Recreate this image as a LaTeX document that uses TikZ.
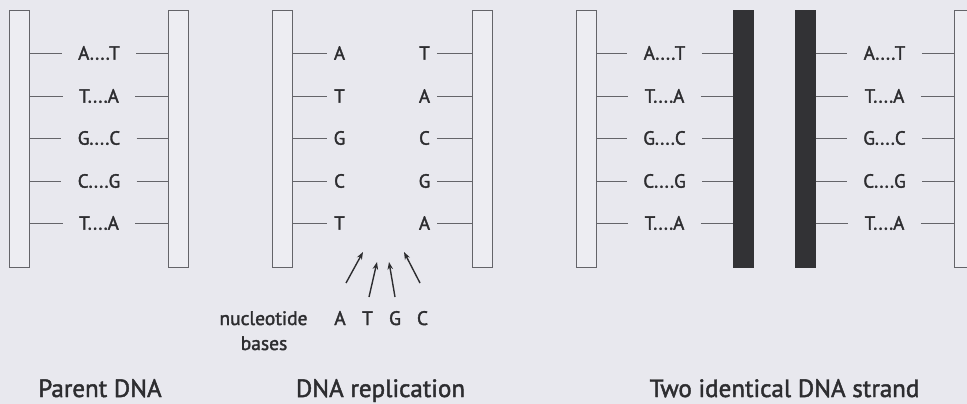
\documentclass[tikz,border=0pt]{standalone}
\usepackage{fontspec}
\setmainfont{PT Sans}[UprightFeatures={FakeBold=1.8}]
\usetikzlibrary{arrows.meta}
\definecolor{bgc}{RGB}{232,232,238}
\definecolor{barline}{RGB}{100,100,105}
\definecolor{barfill}{RGB}{237,237,242}
\definecolor{darkbar}{RGB}{50,50,53}
\definecolor{txt}{RGB}{45,45,48}
\tikzset{
  strandbar/.style={draw=barline, fill=barfill, line width=0.9pt, minimum width=20pt, minimum height=257pt, inner sep=0pt, outer sep=0pt},
  darkstrand/.style={draw=darkbar, fill=darkbar, line width=0.9pt, minimum width=20pt, minimum height=257pt, inner sep=0pt, outer sep=0pt},
  pairlab/.style={text=txt, font=\fontsize{19}{19}\selectfont, inner ysep=0pt, inner xsep=16.5pt, outer sep=0pt},
  singlab/.style={text=txt, font=\fontsize{19}{19}\selectfont, inner ysep=0pt, inner xsep=7pt, outer sep=0pt},
  rung/.style={draw=barline, line width=0.9pt},
  caption/.style={text=txt, font=\fontsize{25}{25}\selectfont, anchor=base, inner sep=0pt},
  small/.style={text=txt, font=\fontsize{19.5}{19.5}\selectfont, anchor=base, inner sep=0pt},
  basearrow/.style={draw=txt, line width=1.4pt, -{Stealth[length=7.5pt,width=5.5pt]}}
}
\begin{document}
\begin{tikzpicture}[x=1pt,y=-1pt]
\useasboundingbox (0,0) rectangle (967,404);
\fill[bgc] (0,0) rectangle (967,404);
\clip (0,0) rectangle (967,404);

% ---------- Panel 1: Parent DNA ----------
\node[strandbar] (p1L) at (19.5,138.75) {};
\node[strandbar] (p1R) at (178,138.75) {};
\foreach \i/\t/\y in {1/{A....T}/53, 2/{T....A}/96, 3/{G....C}/138, 4/{C....G}/181, 5/{T....A}/223}{
  \node[pairlab] (p1l\i) at (99,\y) {\t};
  \draw[rung] (p1L.east |- p1l\i.west) -- (p1l\i.west);
  \draw[rung] (p1l\i.east) -- (p1R.west |- p1l\i.east);
}

% ---------- Panel 2: DNA replication ----------
\node[strandbar] (p2L) at (282,138.75) {};
\node[strandbar] (p2R) at (482,138.75) {};
\foreach \i/\a/\b/\y in {1/A/T/53, 2/T/A/96, 3/G/C/138, 4/C/G/181, 5/T/A/223}{
  \node[singlab] (p2a\i) at (339.5,\y) {\a};
  \node[singlab] (p2b\i) at (424.5,\y) {\b};
  \draw[rung] (p2L.east |- p2a\i.west) -- (p2a\i.west);
  \draw[rung] (p2b\i.east) -- (p2R.west |- p2b\i.east);
}
\node[small] (nuc) at (263.5,325) {nucleotide};
\node[small] (bas) at (264,350) {bases};
\node[small] (nA) at (340,325) {A};
\node[small] (nT) at (367.5,325) {T};
\node[small] (nG) at (395,325) {G};
\node[small] (nC) at (422.5,325) {C};
\coordinate (hA) at (363,252);
\coordinate (hT) at (377,262);
\coordinate (hG) at (389,262);
\coordinate (hC) at (404,252);
\draw[basearrow] (346,283) -- (hA);
\draw[basearrow] (369,297) -- (hT);
\draw[basearrow] (395,297) -- (hG);
\draw[basearrow] (420,283) -- (hC);

% ---------- Panel 3: Two identical DNA strand ----------
\node[strandbar] (p3L) at (586.5,138.75) {};
\node[darkstrand] (p3D1) at (743,138.75) {};
\node[darkstrand] (p3D2) at (805.5,138.75) {};
\node[strandbar] (p3R) at (964,138.75) {};
\foreach \i/\t/\y in {1/{A....T}/53, 2/{T....A}/96, 3/{G....C}/138, 4/{C....G}/181, 5/{T....A}/223}{
  \node[pairlab] (p3l\i) at (664.5,\y) {\t};
  \draw[rung] (p3L.east |- p3l\i.west) -- (p3l\i.west);
  \draw[rung] (p3l\i.east) -- (p3D1.west |- p3l\i.east);
  \node[pairlab] (p3r\i) at (884.5,\y) {\t};
  \draw[rung] (p3D2.east |- p3r\i.west) -- (p3r\i.west);
  \draw[rung] (p3r\i.east) -- (p3R.west |- p3r\i.east);
}

% ---------- Captions ----------
\node[caption] (c1) at (100,397) {Parent DNA};
\node[caption] (c2) at (380.5,397) {DNA replication};
\node[caption] (c3) at (784.5,397) {Two identical DNA strand};
\end{tikzpicture}
\end{document}
